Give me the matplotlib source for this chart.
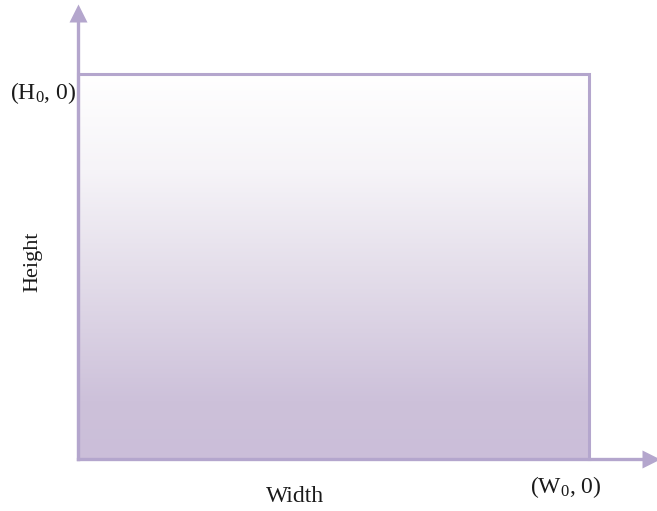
import numpy as np
import matplotlib
matplotlib.use("Agg")
import matplotlib.pyplot as plt
from matplotlib.colors import LinearSegmentedColormap

# Data
W0 = 1.0
H0 = 1.0
x_axis_end = 1.133
y_axis_end = 1.171
corner_labels = ["(H$_0$, 0)", "(W$_0$, 0)"]
axis_labels = ["Width", "Height"]

plt.rcParams['font.family'] = ['Liberation Serif', 'DejaVu Serif']
plt.rcParams['mathtext.fontset'] = 'custom'
plt.rcParams['mathtext.rm'] = 'Liberation Serif'
plt.rcParams['mathtext.it'] = 'Liberation Serif'

line_col = '#b4a6cd'

fig = plt.figure(figsize=(6.57, 5.11), dpi=100)
ax = fig.add_axes([78/657, 52/511, (657-78)/657, 451/511])
ax.set_xlim(0, x_axis_end)
ax.set_ylim(0, y_axis_end)
ax.axis('off')

# gradient fill
cmap = LinearSegmentedColormap.from_list('g', [(0, '#cbbed9'), (0.15, '#cdc1da'),
                                               (0.5, '#e5dfeb'), (0.75, '#f6f4f8'), (1, '#ffffff')])
grad = np.linspace(0, 1, 256).reshape(-1, 1)
ax.imshow(grad, extent=[0, W0, 0, H0], origin='lower', cmap=cmap, aspect='auto', zorder=1)

# rectangle outline
ax.plot([0, 0, W0, W0], [0, H0, H0, 0], color=line_col, lw=2.2, zorder=2, clip_on=False, solid_joinstyle='miter')
# axes
ax.plot([0, x_axis_end - 0.02], [0, 0], color=line_col, lw=2.4, zorder=3, clip_on=False)
ax.plot([0, 0], [0, y_axis_end - 0.02], color=line_col, lw=2.4, zorder=3, clip_on=False)
ax.plot([x_axis_end - 0.012], [0], marker='>', ms=13, color=line_col, mec='none', clip_on=False, zorder=4)
ax.plot([0], [y_axis_end - 0.014], marker='^', ms=13, color=line_col, mec='none', clip_on=False, zorder=4)

tc = '#1a1a1a'
fig.text(76/657, 1 - 93/511, corner_labels[0], ha='right', va='center', fontsize=17, color=tc)
fig.text(566/657, 1 - 487/511, corner_labels[1], ha='center', va='center', fontsize=17, color=tc)
fig.text(295/657, 1 - 496/511, axis_labels[0], ha='center', va='center', fontsize=17, color=tc)
fig.text(33/657, 1 - 262/511, axis_labels[1], ha='center', va='center', fontsize=16, color=tc, rotation=90)

fig.savefig('out.png', dpi=100)
